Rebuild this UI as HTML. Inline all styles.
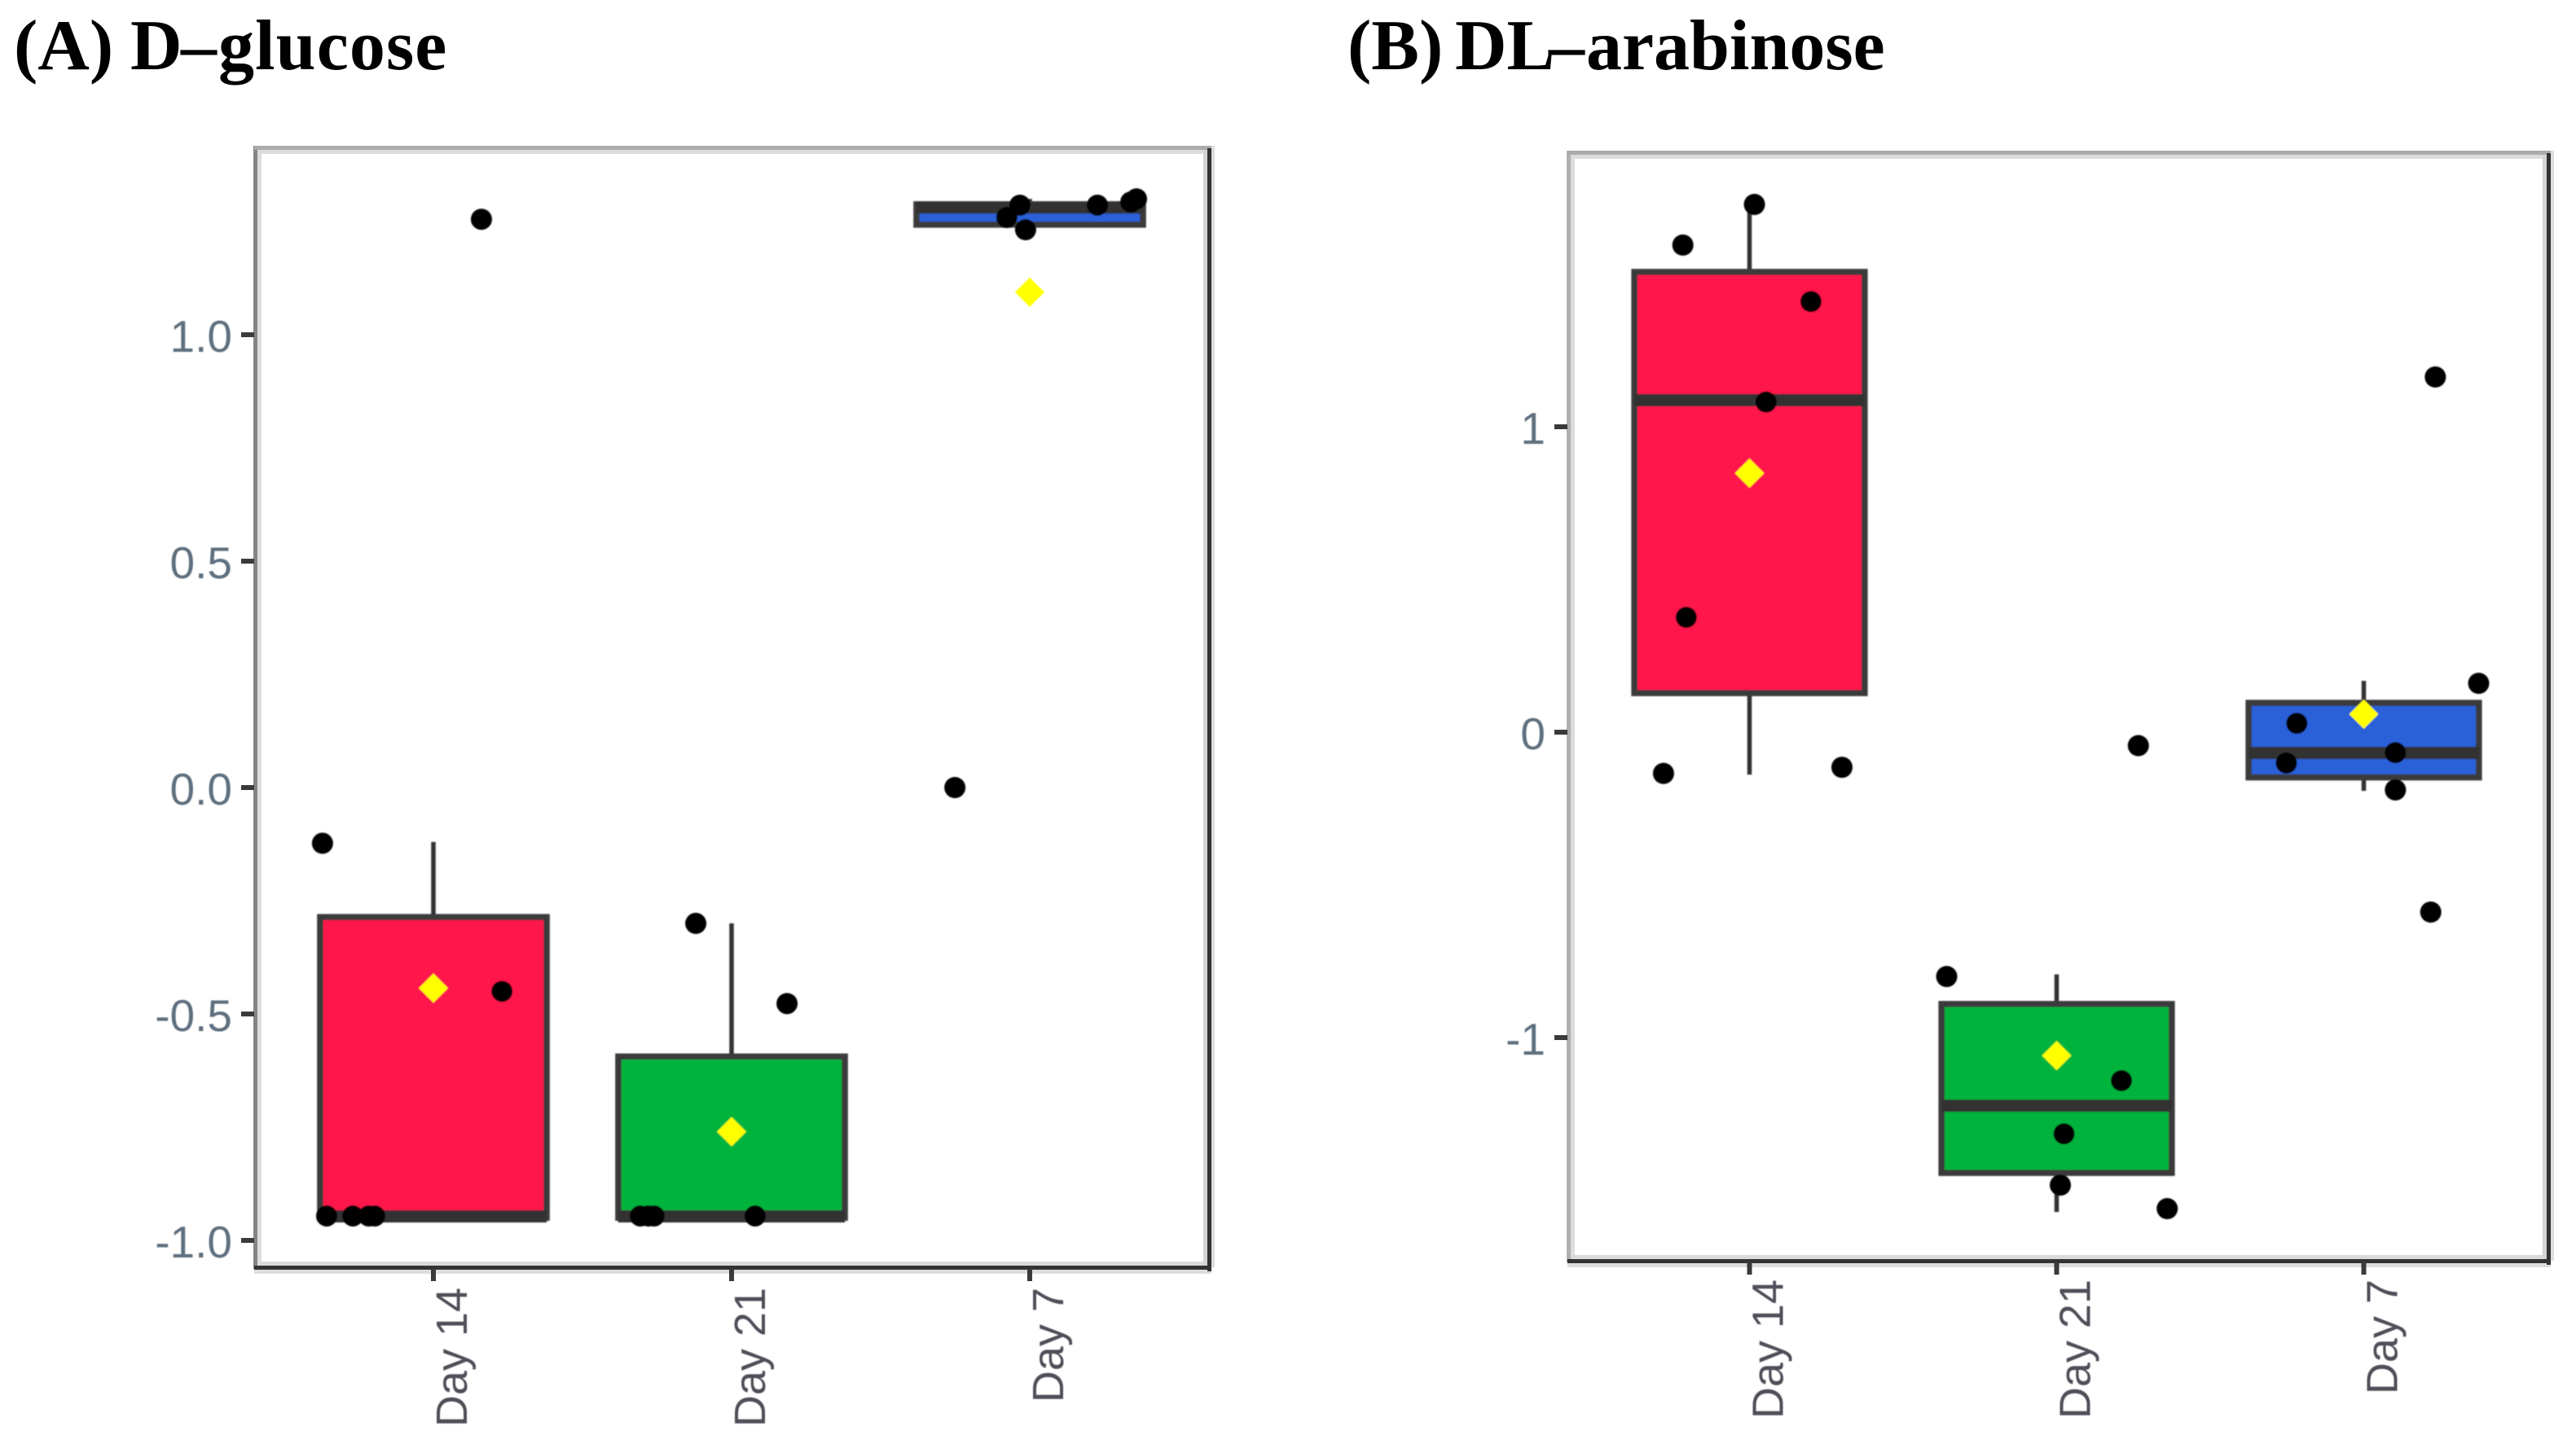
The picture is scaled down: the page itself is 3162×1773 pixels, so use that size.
<!DOCTYPE html>
<html lang="en">
<head>
<meta charset="utf-8">
<title>D-glucose and DL-arabinose box plots</title>
<style>
html,body{margin:0;padding:0;background:#fff;width:3162px;height:1773px;overflow:hidden}
svg{display:block}
.title{font-family:"Liberation Serif",serif;font-weight:bold;font-size:88px;fill:#000}
.ytick{font-family:"Liberation Sans",sans-serif;font-size:55px;fill:#5f6f7f;text-anchor:end}
.xtick{font-family:"Liberation Sans",sans-serif;font-size:54px;fill:#4f4f5a;text-anchor:end}
</style>
</head>
<body>
<svg id="chart" xmlns="http://www.w3.org/2000/svg" width="3162" height="1773" viewBox="0 0 3162 1773">
  <defs>
    <filter id="soft" x="-5%" y="-5%" width="110%" height="110%"><feGaussianBlur stdDeviation="0.9"/></filter>
    <filter id="softText" x="-5%" y="-5%" width="110%" height="110%"><feGaussianBlur stdDeviation="0.5"/></filter>
  </defs>
  <rect x="0" y="0" width="3162" height="1773" fill="#ffffff"/>
  <text class="title" y="85"><tspan x="17">(A) </tspan><tspan x="160">D</tspan><tspan x="222">–</tspan><tspan x="268" letter-spacing="1.1">glucose</tspan></text>
  <text class="title" y="85"><tspan x="1654">(B) </tspan><tspan x="1786">DL</tspan><tspan x="1901">–</tspan><tspan x="1947">arabinose</tspan></text>
</svg>
<script>
// Shared categories
const categories = ['Day 14', 'Day 21', 'Day 7'];
const categoryFills = ['#ff144b', '#00b33c', '#2a60d8'];

// Panel A: D-glucose
const glucoseTicks = [1.0, 0.5, 0.0, -0.5, -1.0];
const glucoseTickLabels = ['1.0', '0.5', '0.0', '-0.5', '-1.0'];
const glucoseQ1 = [-0.95, -0.95, 1.243];
const glucoseMedian = [-0.947, -0.947, 1.281];
const glucoseQ3 = [-0.286, -0.594, 1.288];
const glucoseWhiskerLow = [-0.95, -0.95, 1.243];
const glucoseWhiskerHigh = [-0.12, -0.30, 1.30];
const glucoseMean = [-0.443, -0.76, 1.094];
const glucoseDay14Jitter = [0.628, 1.161, 1.23, 0.642, 0.73, 0.783, 0.803];
const glucoseDay14Values = [-0.123, 1.255, -0.45, -0.946, -0.946, -0.946, -0.946];
const glucoseDay21Jitter = [1.88, 2.186, 1.694, 1.721, 1.74, 2.079];
const glucoseDay21Values = [-0.30, -0.477, -0.946, -0.946, -0.946, -0.946];
const glucoseDay7Jitter = [2.749, 2.967, 2.923, 2.986, 3.227, 3.339, 3.358];
const glucoseDay7Values = [0, 1.286, 1.259, 1.232, 1.286, 1.293, 1.30];

// Panel B: DL-arabinose
const arabinoseTicks = [1, 0, -1];
const arabinoseTickLabels = ['1', '0', '-1'];
const arabinoseQ1 = [0.128, -1.443, -0.148];
const arabinoseMedian = [1.087, -1.223, -0.068];
const arabinoseQ3 = [1.507, -0.89, 0.096];
const arabinoseWhiskerLow = [-0.139, -1.571, -0.192];
const arabinoseWhiskerHigh = [1.73, -0.793, 0.168];
const arabinoseMean = [0.848, -1.059, 0.059];
const arabinoseDay14Jitter = [1.016, 0.783, 1.2, 1.054, 0.794, 0.72, 1.301];
const arabinoseDay14Values = [1.728, 1.595, 1.41, 1.081, 0.376, -0.135, -0.115];
const arabinoseDay21Jitter = [1.642, 2.211, 2.024, 2.012, 2.36, 2.266];
const arabinoseDay21Values = [-0.80, -1.141, -1.315, -1.483, -1.56, -0.044];
const arabinoseDay7Jitter = [3.233, 3.374, 2.782, 3.103, 2.748, 3.103, 3.218];
const arabinoseDay7Values = [1.163, 0.16, 0.029, -0.067, -0.101, -0.189, -0.589];

const SVG_NS = 'http://www.w3.org/2000/svg';
const svg = document.getElementById('chart');

function make(tag, parent, attrs) {
  const node = document.createElementNS(SVG_NS, tag);
  Object.keys(attrs).forEach(function (k) { node.setAttribute(k, attrs[k]); });
  parent.appendChild(node);
  return node;
}

function frameBand(parent, x, y, w, h, fill) {
  const band = make('rect', parent, { x: x, y: y, width: w, height: h, fill: fill });
  
  
}

function drawPanel(cfg) {
  const xScale = function (c) { return cfg.xFirst + (c - 1) * cfg.xStep; };
  const yScale = function (v) { return cfg.yZero - v * cfg.yUnit; };
  const halfBox = cfg.boxHalf * cfg.xStep;

  const panel = make('g', svg, {});
  
  

  // panel frame
  const frame = make('g', panel, {});
  
  
  const L = cfg.left, R = cfg.right, T = cfg.top, B = cfg.bottom;
  frameBand(frame, L + 4, T, 5, B - T, '#dcdcdc');
  frameBand(frame, L, T + 5, R - L, 5, '#dcdcdc');
  frameBand(frame, L, B - 7, R - L, 5, '#dadada');
  frameBand(frame, L, B + 3, R - L + 4, 5, '#dddddd');
  frameBand(frame, R - 6, T, 5, B - T, '#d4d4d4');
  frameBand(frame, R + 4, T, 4, B - T, '#dddddd');
  frameBand(frame, L - 1, T, 5, B - T + 2, cfg.leftColor);
  frameBand(frame, L, T, R - L + 4, 5, '#ababab');
  frameBand(frame, R - 1, T + 3, 5, B - T + 2, '#333333');
  frameBand(frame, L, B - 2, R - L + 4, 5, '#333333');

  // y axis ticks and labels
  cfg.ticks.forEach(function (v, i) {
    const mark = make('rect', panel, { x: L - 16, y: yScale(v) - 3, width: 16, height: 6, fill: '#3a3a3a' });
    
    
    const label = make('text', panel, { class: 'ytick', x: L - 27, y: yScale(v) + 21, filter: 'url(#softText)' });
    
    
    label.textContent = cfg.tickLabels[i];
  });

  // x axis ticks and labels
  categories.forEach(function (name, i) {
    const cx = xScale(i + 1);
    const mark = make('rect', panel, { x: cx - 3, y: B + 2, width: 6, height: 15, fill: '#3a3a3a' });
    
    
    const labelX = cx + 41;
    const label = make('text', panel, { class: 'xtick', x: 0, y: 0, filter: 'url(#softText)', transform: 'translate(' + labelX + ' ' + cfg.xLabelTop + ') rotate(-90)' });
    
    
    label.textContent = name;
  });

  // boxes
  const marks = make('g', panel, { filter: 'url(#soft)' });
  
  
  categories.forEach(function (name, i) {
    const cx = xScale(i + 1);
    const whisker = make('line', marks, { x1: cx, x2: cx, y1: yScale(cfg.whiskerHigh[i]), y2: yScale(cfg.whiskerLow[i]), stroke: '#333333', 'stroke-width': 5.5 });
    
    
    const box = make('rect', marks, {
      x: cx - halfBox, y: yScale(cfg.q3[i]), width: 2 * halfBox,
      height: yScale(cfg.q1[i]) - yScale(cfg.q3[i]),
      fill: categoryFills[i], stroke: '#3a3a3a', 'stroke-width': 7.5
    });
    
    
    const median = make('line', marks, { x1: cx - halfBox, x2: cx + halfBox, y1: yScale(cfg.median[i]), y2: yScale(cfg.median[i]), stroke: '#333333', 'stroke-width': 15 });
    
    
  });

  // jittered observations
  cfg.points.forEach(function (series) {
    series.jitter.forEach(function (c, j) {
      const dot = make('circle', marks, { cx: xScale(c), cy: yScale(series.values[j]), r: 13, fill: '#000000' });
      
      
    });
  });

  // means
  categories.forEach(function (name, i) {
    const mx = xScale(i + 1);
    const my = yScale(cfg.mean[i]);
    const d = 18;
    const diamond = make('polygon', marks, { points: (mx - d) + ',' + my + ' ' + mx + ',' + (my - d) + ' ' + (mx + d) + ',' + my + ' ' + mx + ',' + (my + d), fill: '#ffff00' });
    
    
  });
}

drawPanel({
  name: 'panel-a-glucose',
  left: 312, right: 1483, top: 179, bottom: 1556,
  leftColor: '#848484',
  xFirst: 532, xStep: 366, boxHalf: 0.38,
  yZero: 967, yUnit: 556,
  xLabelTop: 1581,
  ticks: glucoseTicks, tickLabels: glucoseTickLabels,
  q1: glucoseQ1, median: glucoseMedian, q3: glucoseQ3,
  whiskerLow: glucoseWhiskerLow, whiskerHigh: glucoseWhiskerHigh, mean: glucoseMean,
  points: [
    { jitter: glucoseDay14Jitter, values: glucoseDay14Values },
    { jitter: glucoseDay21Jitter, values: glucoseDay21Values },
    { jitter: glucoseDay7Jitter, values: glucoseDay7Values }
  ]
});

drawPanel({
  name: 'panel-b-arabinose',
  left: 1924, right: 3127, top: 185, bottom: 1548,
  leftColor: '#b0b0b0',
  xFirst: 2147.5, xStep: 377, boxHalf: 0.375,
  yZero: 899, yUnit: 375,
  xLabelTop: 1571,
  ticks: arabinoseTicks, tickLabels: arabinoseTickLabels,
  q1: arabinoseQ1, median: arabinoseMedian, q3: arabinoseQ3,
  whiskerLow: arabinoseWhiskerLow, whiskerHigh: arabinoseWhiskerHigh, mean: arabinoseMean,
  points: [
    { jitter: arabinoseDay14Jitter, values: arabinoseDay14Values },
    { jitter: arabinoseDay21Jitter, values: arabinoseDay21Values },
    { jitter: arabinoseDay7Jitter, values: arabinoseDay7Values }
  ]
});
</script>
</body>
</html>
